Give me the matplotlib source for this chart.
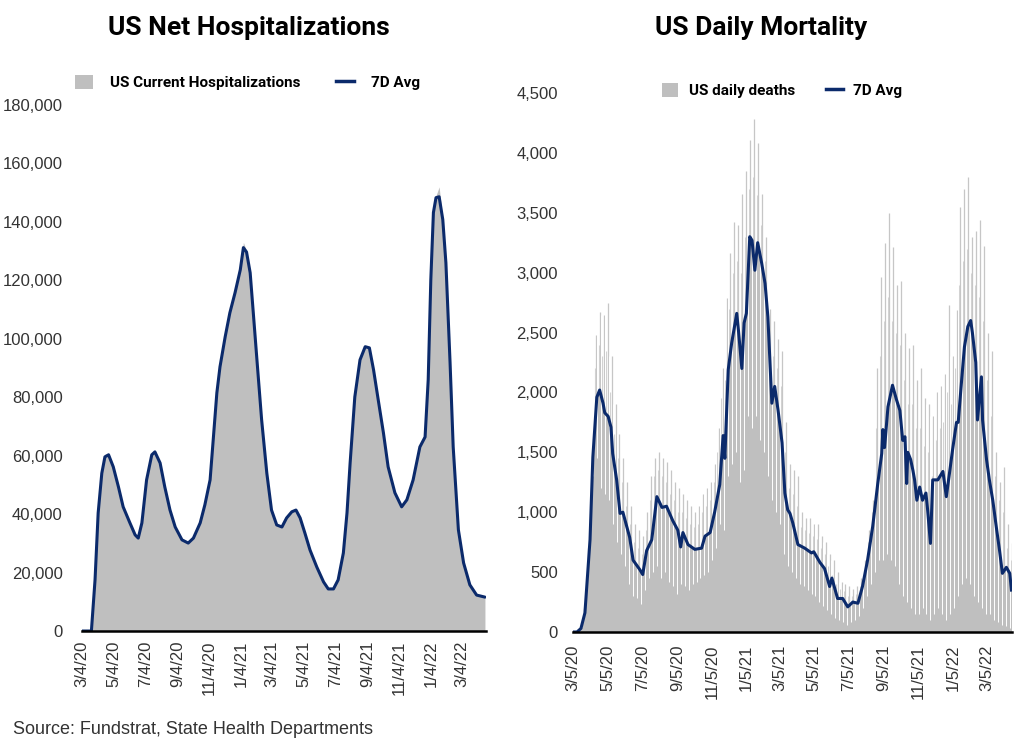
import numpy as np
import pandas as pd
import matplotlib
matplotlib.use('Agg')
import matplotlib.pyplot as plt
import matplotlib.dates as mdates
from matplotlib.patches import Patch
from matplotlib.lines import Line2D
from matplotlib.ticker import FuncFormatter

# ---- US hospitalizations, x = days since 3/4/20 ----
hosp_day = [0, 18, 25, 31, 38, 44, 51, 60, 70, 79, 92, 102, 108, 115, 124, 134, 140, 150, 159,
            169, 179, 192, 204, 214, 227, 236, 246, 252, 259, 265, 275, 284, 294, 304, 310, 316,
            323, 329, 336, 345, 355, 364, 374, 384, 393, 403, 411, 419, 428, 438, 451, 464, 473,
            483, 492, 502, 509, 515, 524, 534, 544, 552, 560, 569, 579, 588, 601, 614, 624, 636,
            649, 659, 665, 670, 675, 680, 686, 693, 699, 707, 713, 723, 733, 745, 758, 774]
hosp_now = [0, 0, 17500, 40400, 54000, 60500, 61000, 56200, 49300, 42500, 37000, 32900, 31800,
            37000, 51700, 60300, 62000, 57500, 49300, 41400, 35600, 31200, 30100, 31800, 37000,
            43200, 51700, 65400, 81500, 90400, 100700, 108900, 115800, 123600, 133000, 130000,
            122600, 108900, 92800, 72300, 54000, 41400, 36300, 35600, 38700, 40800, 41600, 38700,
            33600, 27700, 21900, 16800, 14400, 14400, 17500, 26700, 40400, 57500, 80100, 92800,
            97800, 96900, 89400, 79100, 67800, 56200, 47300, 42500, 44900, 51700, 63000, 66400,
            86000, 120200, 143200, 149000, 152000, 140800, 126000, 91800, 63000, 34600, 23300,
            15800, 12300, 11600]
hosp_avg = [0, 0, 17500, 40400, 54000, 59600, 60300, 56200, 49300, 42500, 37000, 32900, 31800,
            37000, 51700, 60300, 61300, 57500, 49300, 41400, 35600, 31200, 30100, 31800, 37000,
            43200, 51700, 65400, 81500, 90400, 100700, 108900, 115800, 123600, 131200, 129700,
            122600, 108900, 92800, 72300, 54000, 41400, 36300, 35600, 38700, 40800, 41400, 38700,
            33600, 27700, 21900, 16800, 14400, 14400, 17500, 26700, 40400, 57500, 80100, 92800,
            97300, 96900, 89400, 79100, 67800, 56200, 47300, 42500, 44900, 51700, 63000, 66400,
            86000, 120200, 143200, 148300, 148600, 140800, 126000, 91800, 63000, 34600, 23300,
            15800, 12300, 11600]
hosp_ticks = ['2020-03-04', '2020-05-04', '2020-07-04', '2020-09-04', '2020-11-04', '2021-01-04',
              '2021-03-04', '2021-05-04', '2021-07-04', '2021-09-04', '2021-11-04', '2022-01-04',
              '2022-03-04']

# ---- US daily deaths 7D avg, x = days since 3/5/20 ----
mort_day = [0, 7, 14, 21, 30, 35, 42, 47, 53, 56, 62, 67, 70, 77, 83, 88, 92, 100, 106, 118, 123,
            130, 139, 148, 157, 165, 176, 185, 190, 194, 203, 215, 227, 233, 242, 250, 259, 265,
            268, 274, 280, 289, 292, 298, 302, 306, 312, 316, 321, 326, 333, 339, 344, 351, 356,
            362, 369, 374, 379, 383, 388, 397, 409, 421, 425, 436, 444, 453, 457, 467, 476, 485,
            494, 503, 511, 520, 529, 538, 545, 547, 550, 556, 564, 571, 577, 582, 586, 589, 591,
            596, 600, 603, 607, 612, 617, 623, 626, 631, 635, 644, 653, 659, 665, 670, 677, 680,
            686, 691, 697, 702, 705, 711, 714, 721, 723, 730, 735, 741, 748, 753, 758, 765, 771,
            774]
mort_avg = [0, 0, 30, 160, 770, 1460, 1960, 2020, 1910, 1830, 1800, 1710, 1490, 1270, 990, 1000,
            930, 790, 600, 520, 480, 680, 770, 1130, 1040, 1050, 930, 850, 710, 830, 730, 690, 700,
            800, 830, 1000, 1230, 1640, 1450, 2190, 2410, 2660, 2520, 2200, 2580, 2660, 3300, 3270,
            3020, 3250, 3080, 2910, 2630, 1910, 2050, 1850, 1580, 1160, 1020, 990, 910, 730, 700,
            660, 670, 580, 530, 380, 450, 280, 280, 210, 250, 240, 380, 600, 880, 1240, 1490, 1690,
            1540, 1880, 2060, 1940, 1850, 1600, 1630, 1240, 1500, 1440, 1350, 1270, 1100, 1210,
            1100, 1160, 1020, 740, 1270, 1270, 1340, 1130, 1340, 1520, 1750, 1750, 2100, 2380,
            2550, 2600, 2500, 2250, 1770, 2130, 1770, 1440, 1270, 1100, 850, 680, 490, 540, 490,
            350]
# daily deaths per week (weeks starting 3/5/20): highest day, second highest day, lowest day
week_hi = [5, 30, 200, 700, 1400, 2480, 2670, 2650, 2750, 2300,
           1900, 1650, 1450, 1250, 1050, 900, 850, 800, 1000, 1300,
           1450, 1500, 1450, 1420, 1350, 1250, 1200, 1150, 1100, 1050,
           1000, 1050, 1150, 1200, 1250, 1400, 1700, 2200, 2790, 3160,
           3420, 3400, 3660, 3850, 4110, 4280, 4080, 3660, 3300, 2700,
           2600, 2450, 2350, 1750, 1400, 1350, 1300, 1000, 950, 950,
           900, 900, 800, 750, 650, 600, 500, 420, 400, 380,
           360, 380, 450, 600, 850, 1100, 2200, 2960, 3250, 3500,
           3210, 2900, 2930, 2500, 2370, 2400, 2100, 2200, 1950, 1900,
           1800, 2000, 2050, 2150, 2730, 2300, 2690, 3550, 3700, 3800,
           3300, 3350, 3440, 3220, 2500, 2350, 1500, 1250, 1380, 900, 740]
week_mid = [3, 20, 130, 500, 1200, 2200, 2400, 2300, 2350, 2000,
            1650, 1450, 1250, 1050, 900, 750, 700, 650, 850, 1100,
            1300, 1350, 1300, 1250, 1150, 1100, 1000, 1000, 950, 900,
            880, 900, 1000, 1050, 1100, 1250, 1500, 1950, 2100, 2700,
            3000, 3100, 3000, 3300, 3700, 3800, 3650, 3400, 3100, 2500,
            2300, 2200, 2050, 1500, 1200, 1150, 1050, 880, 850, 830,
            800, 780, 700, 650, 550, 480, 400, 360, 340, 300,
            300, 320, 380, 520, 750, 1000, 1700, 2300, 2600, 2800,
            2600, 2500, 2400, 2100, 1900, 1900, 1700, 1700, 1550, 1500,
            1300, 1600, 1700, 1750, 2000, 1900, 2200, 2900, 3100, 3200,
            3000, 2900, 2800, 2600, 2100, 1800, 1300, 1100, 1000, 700, 600]
week_lo = [0, 5, 40, 200, 700, 1300, 1450, 1200, 1150, 1100,
           900, 750, 650, 550, 400, 300, 280, 230, 350, 450,
           500, 550, 450, 500, 420, 380, 320, 400, 380, 350,
           400, 420, 450, 480, 500, 600, 700, 900, 850, 1300,
           1400, 1500, 1250, 1350, 1800, 1700, 1800, 1600, 1500, 1300,
           1100, 1000, 900, 650, 550, 500, 450, 400, 380, 350,
           320, 300, 250, 220, 180, 150, 120, 100, 80, 60,
           80, 100, 130, 200, 300, 400, 500, 600, 600, 650,
           600, 550, 400, 300, 250, 200, 150, 150, 200, 150,
           100, 150, 200, 150, 100, 150, 200, 300, 400, 450,
           400, 300, 250, 200, 150, 150, 100, 80, 60, 50, 30]
mort_ticks = ['2020-03-05', '2020-05-05', '2020-07-05', '2020-09-05', '2020-11-05', '2021-01-05',
              '2021-03-05', '2021-05-05', '2021-07-05', '2021-09-05', '2021-11-05', '2022-01-05',
              '2022-03-05']

navy = '#0B2A6B'
grey = '#BFBFBF'
bold_font = ['Roboto', 'DejaVu Sans']
plt.rcParams['font.family'] = ['Liberation Sans', 'DejaVu Sans']


def mdy(x, pos):
    d = mdates.num2date(x)
    return f'{d.month}/{d.day}/{d:%y}'


def style(ax, xpad, ypad):
    for s in ['top', 'right', 'left']:
        ax.spines[s].set_visible(False)
    ax.spines['bottom'].set_linewidth(1.8)
    ax.spines['bottom'].set_color('black')
    ax.spines['bottom'].set_zorder(6)
    ax.tick_params(length=0, labelsize=12, labelcolor='#333333')
    ax.tick_params(axis='x', labelrotation=90, pad=xpad)
    ax.tick_params(axis='y', pad=ypad)
    ax.xaxis.set_major_formatter(FuncFormatter(mdy))
    ax.yaxis.set_major_formatter(FuncFormatter(lambda v, p: f'{v:,.0f}'))


fig = plt.figure(figsize=(10.24, 7.54), dpi=100)

# left: hospitalizations
ax1 = fig.add_axes([0.0801, 0.1631, 0.3945, 0.6976])
h0 = pd.Timestamp('2020-03-04')
h_dates = h0 + pd.to_timedelta(hosp_day, unit='D')
ax1.fill_between(h_dates, hosp_now, color=grey, lw=0)
ax1.plot(h_dates, hosp_avg, color=navy, lw=2.2, solid_joinstyle='round', solid_capstyle='round')
ax1.set_xlim(h0, pd.Timestamp('2022-04-19'))
ax1.set_ylim(0, 180000)
ax1.set_yticks(range(0, 180001, 20000))
ax1.set_xticks(pd.to_datetime(hosp_ticks))
style(ax1, 7, 14)
ax1.legend(handles=[Patch(facecolor=grey, edgecolor='none', label='US Current Hospitalizations'),
                    Line2D([], [], color=navy, lw=2.5, label='7D Avg')],
           loc='center', bbox_to_anchor=(0.41, 1.042), ncol=2, frameon=False,
           prop=dict(family=bold_font, weight='bold', size=11),
           handlelength=1.2, handleheight=1.0, columnspacing=2.3, handletextpad=1.1)

# right: daily deaths
ax2 = fig.add_axes([0.5596, 0.1618, 0.4287, 0.7149])
m0 = pd.Timestamp('2020-03-05')
m_dates = m0 + pd.to_timedelta(mort_day, unit='D')
wk = m0 + pd.to_timedelta(np.arange(len(week_hi)) * 7, unit='D')
ax2.vlines(wk + pd.Timedelta(days=5), 0, week_hi, color='#C6C6C6', lw=0.9, zorder=1)
ax2.vlines(wk + pd.Timedelta(days=3), 0, week_mid, color='#D2D2D2', lw=0.8, zorder=1)
ax2.fill_between(m_dates, mort_avg, color=grey, lw=0, zorder=2)
ax2.vlines(wk + pd.Timedelta(days=1), week_lo, week_hi, color='white', lw=0.7, zorder=3)
ax2.plot(m_dates, mort_avg, color=navy, lw=2.2, zorder=4, solid_joinstyle='round')
ax2.set_xlim(m0, pd.Timestamp('2022-04-19'))
ax2.set_ylim(0, 4500)
ax2.set_yticks(range(0, 4501, 500))
ax2.set_xticks(pd.to_datetime(mort_ticks))
style(ax2, 9, 11)
ax2.legend(handles=[Patch(facecolor=grey, edgecolor='none', label='US daily deaths'),
                    Line2D([], [], color=navy, lw=2.5, label='7D Avg')],
           loc='center', bbox_to_anchor=(0.476, 1.004), ncol=2, frameon=False,
           prop=dict(family=bold_font, weight='bold', size=11),
           handlelength=1.1, handleheight=1.0, columnspacing=2.0, handletextpad=0.7)

fig.text(249 / 1024, 1 - 28 / 754, 'US Net Hospitalizations', ha='center', va='center',
         family=bold_font, weight='bold', size=19)
fig.text(761 / 1024, 1 - 28 / 754, 'US Daily Mortality', ha='center', va='center',
         family=bold_font, weight='bold', size=19)
fig.text(13 / 1024, 1 - 730 / 754, 'Source: Fundstrat, State Health Departments',
         ha='left', va='center', size=13, color='#333333')

fig.savefig('out.png', dpi=100)
